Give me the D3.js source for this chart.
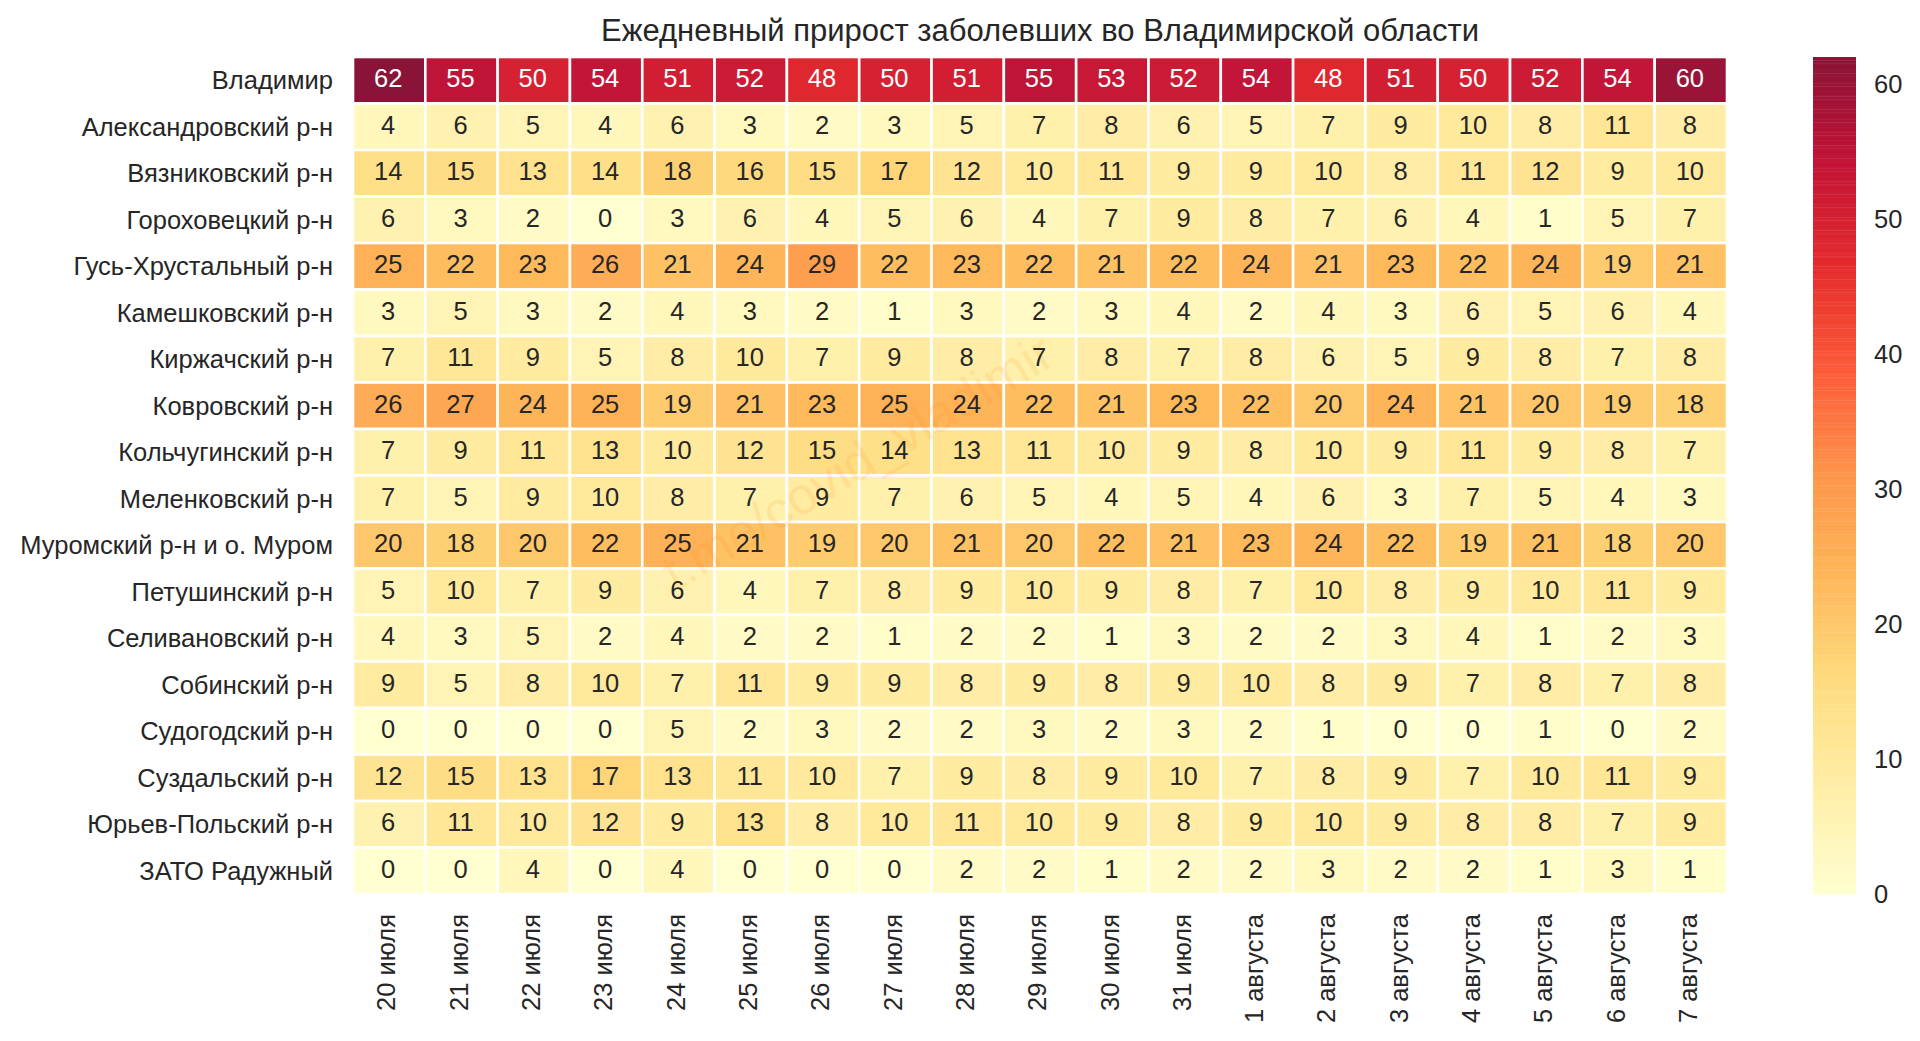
<!DOCTYPE html>
<html>
<head>
<meta charset="utf-8">
<script src="https://cdnjs.cloudflare.com/ajax/libs/d3/7.8.5/d3.min.js"></script>
<style>
  html, body { margin: 0; padding: 0; background: #fff; }
  text { font-family: "Liberation Sans", Arial, sans-serif; fill: #262626; }
</style>
</head>
<body>
<div id="chart"></div>
<script>
var titleText = "Ежедневный прирост заболевших во Владимирской области";
var watermark = "t.me/covid_vladimir";
var districts = ["Владимир", "Александровский р-н", "Вязниковский р-н", "Гороховецкий р-н", "Гусь-Хрустальный р-н", "Камешковский р-н", "Киржачский р-н", "Ковровский р-н", "Кольчугинский р-н", "Меленковский р-н", "Муромский р-н и о. Муром", "Петушинский р-н", "Селивановский р-н", "Собинский р-н", "Судогодский р-н", "Суздальский р-н", "Юрьев-Польский р-н", "ЗАТО Радужный"];
var days = ["20 июля", "21 июля", "22 июля", "23 июля", "24 июля", "25 июля", "26 июля", "27 июля", "28 июля", "29 июля", "30 июля", "31 июля", "1 августа", "2 августа", "3 августа", "4 августа", "5 августа", "6 августа", "7 августа"];
var counts = [
    [62, 55, 50, 54, 51, 52, 48, 50, 51, 55, 53, 52, 54, 48, 51, 50, 52, 54, 60],
    [4, 6, 5, 4, 6, 3, 2, 3, 5, 7, 8, 6, 5, 7, 9, 10, 8, 11, 8],
    [14, 15, 13, 14, 18, 16, 15, 17, 12, 10, 11, 9, 9, 10, 8, 11, 12, 9, 10],
    [6, 3, 2, 0, 3, 6, 4, 5, 6, 4, 7, 9, 8, 7, 6, 4, 1, 5, 7],
    [25, 22, 23, 26, 21, 24, 29, 22, 23, 22, 21, 22, 24, 21, 23, 22, 24, 19, 21],
    [3, 5, 3, 2, 4, 3, 2, 1, 3, 2, 3, 4, 2, 4, 3, 6, 5, 6, 4],
    [7, 11, 9, 5, 8, 10, 7, 9, 8, 7, 8, 7, 8, 6, 5, 9, 8, 7, 8],
    [26, 27, 24, 25, 19, 21, 23, 25, 24, 22, 21, 23, 22, 20, 24, 21, 20, 19, 18],
    [7, 9, 11, 13, 10, 12, 15, 14, 13, 11, 10, 9, 8, 10, 9, 11, 9, 8, 7],
    [7, 5, 9, 10, 8, 7, 9, 7, 6, 5, 4, 5, 4, 6, 3, 7, 5, 4, 3],
    [20, 18, 20, 22, 25, 21, 19, 20, 21, 20, 22, 21, 23, 24, 22, 19, 21, 18, 20],
    [5, 10, 7, 9, 6, 4, 7, 8, 9, 10, 9, 8, 7, 10, 8, 9, 10, 11, 9],
    [4, 3, 5, 2, 4, 2, 2, 1, 2, 2, 1, 3, 2, 2, 3, 4, 1, 2, 3],
    [9, 5, 8, 10, 7, 11, 9, 9, 8, 9, 8, 9, 10, 8, 9, 7, 8, 7, 8],
    [0, 0, 0, 0, 5, 2, 3, 2, 2, 3, 2, 3, 2, 1, 0, 0, 1, 0, 2],
    [12, 15, 13, 17, 13, 11, 10, 7, 9, 8, 9, 10, 7, 8, 9, 7, 10, 11, 9],
    [6, 11, 10, 12, 9, 13, 8, 10, 11, 10, 9, 8, 9, 10, 9, 8, 8, 7, 9],
    [0, 0, 4, 0, 4, 0, 0, 0, 2, 2, 1, 2, 2, 3, 2, 2, 1, 3, 1]
];
var barTicks = [0, 10, 20, 30, 40, 50, 60];
var ylOrRd = ["#ffffcc", "#ffeda0", "#fed976", "#feb24c", "#fd8d3c", "#fc4e2a", "#e31a1c", "#bd0026", "#800026"];

var width = 1920, height = 1041;
var left = 353, right = 1727, top_ = 57, bottom = 894;
var barLeft = 1813, barRight = 1856;
var cellAlpha = 0.92;
var labelSize = 25.5;

var svg = d3.select("#chart").append("svg")
    .attr("width", width)
    .attr("height", height)
    .style("display", "block");

var vmax = d3.max(counts, function(r) { return d3.max(r); });
var color = d3.scaleLinear()
    .domain(ylOrRd.map(function(c, i) { return vmax * i / (ylOrRd.length - 1); }))
    .range(ylOrRd);

var x = d3.scaleBand().domain(days).range([left, right]);
var y = d3.scaleBand().domain(districts).range([top_, bottom]);
var barY = d3.scaleLinear().domain([0, vmax]).range([bottom, top_]);

// Cells
var cells = [];
counts.forEach(function(row, i) {
    row.forEach(function(v, j) {
        cells.push({ district: districts[i], day: days[j], value: v });
    });
});

svg.append("g").selectAll("rect")
    .data(cells)
    .enter()
    .append("rect")
    .attr("x", function(d) { return x(d.day); })
    .attr("y", function(d) { return y(d.district); })
    .attr("width", x.bandwidth())
    .attr("height", y.bandwidth())
    .attr("fill", function(d) { return color(d.value); })
    .attr("fill-opacity", cellAlpha)
    .attr("stroke", "#fff")
    .attr("stroke-width", 2.6);

// Watermark sits under the numbers
svg.append("text")
    .attr("transform", "translate(676,592) rotate(-31)")
    .attr("font-size", 52)
    .style("fill", "#ff8c1a")
    .attr("fill-opacity", 0.13)
    .text(watermark);

// Annotations
svg.append("g").selectAll("text")
    .data(cells)
    .enter()
    .append("text")
    .attr("x", function(d) { return x(d.day) + x.bandwidth() / 2 - 1; })
    .attr("y", function(d) { return y(d.district) + y.bandwidth() / 2 - 2; })
    .attr("dy", "0.36em")
    .attr("text-anchor", "middle")
    .attr("font-size", labelSize)
    .style("fill", function(d) { return d.value >= 36 ? "#fff" : "#262626"; })
    .text(function(d) { return d.value; });

// Axes
var yAxis = d3.axisLeft(y).tickSize(0).tickPadding(20);
svg.append("g")
    .attr("transform", "translate(" + left + ",0)")
    .call(yAxis)
    .call(function(g) { g.select(".domain").remove(); })
    .selectAll("text")
    .attr("y", 1)
    .attr("font-size", labelSize);

var xAxis = d3.axisBottom(x).tickSize(0);
var xg = svg.append("g")
    .attr("transform", "translate(0," + bottom + ")")
    .call(xAxis)
    .call(function(g) { g.select(".domain").remove(); });
xg.selectAll("text")
    .attr("font-size", labelSize)
    .attr("text-anchor", "end")
    .attr("transform", "rotate(-90)")
    .attr("x", -20)
    .attr("y", -3)
    .attr("dy", "0.36em");

// Colorbar, bands overlap a little like the pcolormesh stripes
var barBands = d3.range(256);
svg.append("g").selectAll("rect")
    .data(barBands)
    .enter()
    .append("rect")
    .attr("x", barLeft)
    .attr("width", barRight - barLeft)
    .attr("y", function(d) { return barY(vmax * (d + 1) / 256); })
    .attr("height", function(d) { return barY(vmax * d / 256) - barY(vmax * (d + 1) / 256) + 0.3; })
    .attr("fill", function(d) { return color(vmax * (d + 0.5) / 256); })
    .attr("fill-opacity", cellAlpha);

var barAxis = d3.axisRight(barY).tickValues(barTicks).tickSize(0).tickPadding(18);
svg.append("g")
    .attr("transform", "translate(" + barRight + ",0)")
    .call(barAxis)
    .call(function(g) { g.select(".domain").remove(); })
    .selectAll("text")
    .attr("font-size", labelSize);

// Title
svg.append("text")
    .attr("x", (left + right) / 2)
    .attr("y", 41)
    .attr("text-anchor", "middle")
    .attr("font-size", 31)
    .text(titleText);
</script>
</body>
</html>
